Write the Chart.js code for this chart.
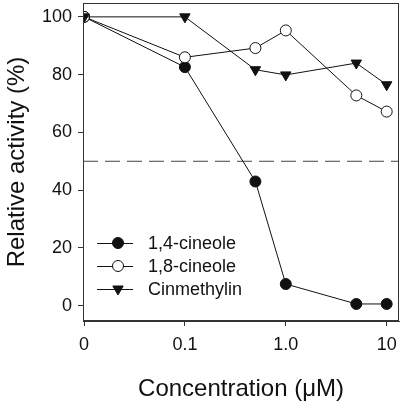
<!DOCTYPE html>
<html>
<head>
<meta charset="utf-8">
<script src="https://cdn.jsdelivr.net/npm/chart.js@4/dist/chart.umd.min.js"></script>
<style>
  html, body { margin: 0; padding: 0; background: #fff; }
  #wrap { width: 400px; height: 401px; }
</style>
</head>
<body>
<div id="wrap"><canvas id="grafico" width="400" height="401"></canvas></div>
<script>
// datos
const concentraciones = [0, 0.1, 0.5, 1.0, 5, 10];
const cineol14 = [100, 82.6, 43.0, 7.5, 0.6, 0.6];
const cineol18 = [100, 86.0, 89.2, 95.3, 72.8, 67.2];
const cinmetilina = [100, 100, 81.7, 79.9, 84.0, 76.5];
const nombresSeries = ['1,4-cineole', '1,8-cineole', 'Cinmethylin'];

const xTicks = [0, 0.1, 1, 10];
const xTickLabels = ['0', '0.1', '1.0', '10'];
const yTicks = [0, 20, 40, 60, 80, 100];
const lineaMitad = 50;

// el 0 se dibuja una decada por debajo de 0.1 (eje cortado)
const posCero = 0.01;
const xMin = 0.00977, xMax = 13.25;
const yMin = -5.3, yMax = 104.8;

function posX(v) { return v === 0 ? posCero : v; }
function puntos(valores) {
  return concentraciones.map(function (c, i) { return { x: posX(c), y: valores[i] }; });
}

const fuente = "'Liberation Sans', Arial, sans-serif";
const negro = '#111';

const datasets = [
  {
    label: nombresSeries[0], data: puntos(cineol14),
    borderColor: negro, borderWidth: 1, pointStyle: 'circle', pointRadius: 5.5,
    pointBackgroundColor: negro, pointBorderColor: negro, order: 2
  },
  {
    label: nombresSeries[1], data: puntos(cineol18),
    borderColor: negro, borderWidth: 1, pointStyle: 'circle', pointRadius: 5.5,
    pointBackgroundColor: '#fff', pointBorderColor: negro, pointBorderWidth: 1, order: 1
  },
  {
    label: nombresSeries[2], data: puntos(cinmetilina),
    borderColor: negro, borderWidth: 1, pointStyle: 'triangle', pointRotation: 180, pointRadius: 6,
    pointBackgroundColor: negro, pointBorderColor: negro, order: 0
  },
  {
    label: '50%', data: [{ x: xMin, y: lineaMitad }, { x: xMax, y: lineaMitad }],
    borderColor: '#444', borderWidth: 1, borderDash: [15, 7], pointRadius: 0, order: 3
  }
];

// sin relleno extra alrededor del area del grafico
function sinPadding(scale) {
  scale.paddingTop = 0;
  scale.paddingBottom = 0;
  scale.paddingLeft = 0;
  scale.paddingRight = 0;
}

// marco completo y leyenda dibujada a mano
const marcoYLeyenda = {
  id: 'marcoYLeyenda',
  afterDraw: function (chart) {
    const ctx = chart.ctx;
    const a = chart.chartArea;
    ctx.save();
    ctx.strokeStyle = '#333';
    ctx.lineWidth = 1;
    ctx.strokeRect(a.left + 0.5, a.top + 0.5, a.right - a.left - 1, a.bottom - a.top - 1);

    const x0 = 97, x1 = 133, xm = 118, xt = 148;
    const filas = [243, 266, 289];
    ctx.font = '18px ' + fuente;
    ctx.textBaseline = 'middle';
    for (let i = 0; i < 3; i++) {
      const ds = chart.data.datasets[i];
      const y = filas[i];
      ctx.strokeStyle = negro;
      ctx.beginPath();
      ctx.moveTo(x0, y + 0.5);
      ctx.lineTo(x1, y + 0.5);
      ctx.stroke();
      ctx.fillStyle = ds.pointBackgroundColor;
      ctx.strokeStyle = ds.pointBorderColor;
      Chart.helpers.drawPoint(ctx, {
        pointStyle: ds.pointStyle, rotation: ds.pointRotation || 0,
        radius: ds.pointRadius, borderWidth: 1
      }, xm, y);
      ctx.fillStyle = negro;
      ctx.fillText(ds.label, xt, y + 1);
    }
    ctx.restore();
  }
};

new Chart(document.getElementById('grafico'), {
  type: 'line',
  data: { datasets: datasets },
  options: {
    responsive: false,
    animation: false,
    layout: { autoPadding: false, padding: { top: 3, right: 1, left: 0, bottom: 0 } },
    plugins: { legend: { display: false }, tooltip: { enabled: false } },
    scales: {
      x: {
        type: 'logarithmic',
        min: xMin, max: xMax,
        afterBuildTicks: function (scale) {
          scale.ticks = xTicks.map(function (v) { return { value: posX(v) }; });
        },
        afterFit: function (scale) { scale.height = 80; sinPadding(scale); },
        ticks: {
          autoSkip: false, maxRotation: 0, padding: 8, color: negro,
          font: { family: fuente, size: 18 },
          callback: function (value) {
            const i = xTicks.map(posX).indexOf(value);
            return i >= 0 ? xTickLabels[i] : '';
          }
        },
        grid: { drawOnChartArea: false, tickLength: 5, color: '#333' },
        border: { color: '#333' },
        title: {
          display: true, text: 'Concentration (\u03bcM)', color: negro,
          font: { family: fuente, size: 24 }, padding: { top: 0, bottom: -3 }
        }
      },
      y: {
        min: yMin, max: yMax,
        afterBuildTicks: function (scale) {
          scale.ticks = yTicks.map(function (v) { return { value: v }; });
        },
        afterFit: function (scale) { scale.width = 83; sinPadding(scale); },
        ticks: { padding: 6, color: negro, font: { family: fuente, size: 18 } },
        grid: { drawOnChartArea: false, tickLength: 5, color: '#333' },
        border: { color: '#333' },
        title: {
          display: true, text: 'Relative activity (%)', color: negro,
          font: { family: fuente, size: 24 }, padding: { top: 3 }
        }
      }
    }
  },
  plugins: [marcoYLeyenda]
});
</script>
</body>
</html>
